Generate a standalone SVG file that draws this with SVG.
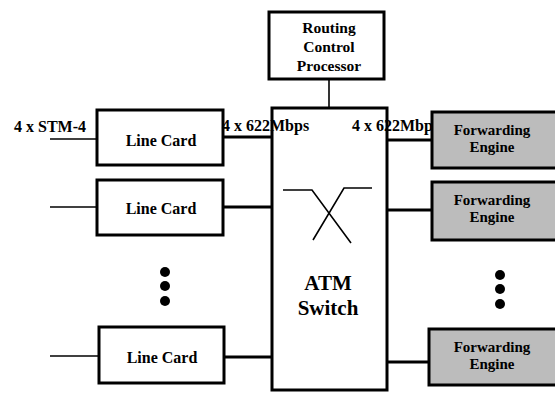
<svg xmlns="http://www.w3.org/2000/svg" width="555" height="393" viewBox="0 0 555 393">
<style>
.box{fill:#fff;stroke:#000;stroke-width:3}
.fe{fill:#bcbcbc;stroke:#000;stroke-width:3}
.t{font-family:"Liberation Serif",serif;font-weight:bold;fill:#000}
.thin{stroke:#000;stroke-width:1.6;fill:none}
.thick{stroke:#000;stroke-width:3.2;fill:none}
</style>
<rect width="555" height="393" fill="#fff"/>
<g id="connectors">
<line class="thin" x1="329" y1="79" x2="329" y2="108"/>
<line class="thin" x1="50" y1="139" x2="97" y2="139"/>
<line class="thin" x1="50" y1="207" x2="97" y2="207"/>
<line class="thin" x1="50" y1="356" x2="99" y2="356"/>
<line class="thick" x1="223" y1="137" x2="272" y2="137"/>
<line class="thick" x1="223" y1="207" x2="272" y2="207"/>
<line class="thick" x1="224" y1="357" x2="272" y2="357"/>
<line class="thick" x1="387" y1="140" x2="432" y2="140"/>
<line class="thick" x1="387" y1="210" x2="432" y2="210"/>
<line class="thick" x1="387" y1="362" x2="429" y2="362"/>
</g>
<g id="rcp">
<rect class="box" x="269" y="12" width="115" height="67"/>
<text class="t" x="329" y="33" font-size="15.5" text-anchor="middle">Routing</text>
<text class="t" x="329" y="52" font-size="15.5" text-anchor="middle">Control</text>
<text class="t" x="329" y="71" font-size="15.5" text-anchor="middle">Processor</text>
</g>
<g id="switch">
<rect class="box" x="272" y="108" width="115" height="282"/>
<polyline class="thin" stroke-width="2.2" points="283,190 312,190 351,243"/>
<polyline class="thin" stroke-width="2.2" points="372,188 344,188 313,240"/>
<text class="t" x="328" y="290" font-size="21" text-anchor="middle">ATM</text>
<text class="t" x="328" y="315" font-size="21" text-anchor="middle">Switch</text>
</g>
<g id="linecard1">
<rect class="box" x="97" y="110" width="126" height="55"/>
<text class="t" x="161" y="146" font-size="16" text-anchor="middle">Line Card</text>
</g>
<g id="linecard2">
<rect class="box" x="97" y="180" width="126" height="55"/>
<text class="t" x="161" y="214" font-size="16" text-anchor="middle">Line Card</text>
</g>
<g id="linecard3">
<rect class="box" x="99" y="327" width="125" height="56"/>
<text class="t" x="162" y="363" font-size="16" text-anchor="middle">Line Card</text>
</g>
<g id="labels">
<text class="t" x="14" y="132" font-size="16">4 x STM-4</text>
<text class="t" x="222" y="131" font-size="16">4 x 622Mbps</text>
<text class="t" x="352" y="131" font-size="16">4 x 622Mbps</text>
</g>
<g id="dots-left">
<circle cx="165" cy="272" r="5"/>
<circle cx="165" cy="286" r="5"/>
<circle cx="165" cy="301" r="5"/>
</g>
<g id="fe1">
<rect class="fe" x="432" y="112" width="130" height="56"/>
<text class="t" x="492" y="135" font-size="15" text-anchor="middle">Forwarding</text>
<text class="t" x="492" y="152" font-size="15" text-anchor="middle">Engine</text>
</g>
<g id="fe2">
<rect class="fe" x="432" y="182" width="130" height="58"/>
<text class="t" x="492" y="205" font-size="15" text-anchor="middle">Forwarding</text>
<text class="t" x="492" y="222" font-size="15" text-anchor="middle">Engine</text>
</g>
<g id="dots-right">
<circle cx="500" cy="275" r="5"/>
<circle cx="500" cy="289" r="5"/>
<circle cx="500" cy="304" r="5"/>
</g>
<g id="fe3">
<rect class="fe" x="429" y="329" width="133" height="56"/>
<text class="t" x="492" y="352" font-size="15" text-anchor="middle">Forwarding</text>
<text class="t" x="492" y="369" font-size="15" text-anchor="middle">Engine</text>
</g>
</svg>
